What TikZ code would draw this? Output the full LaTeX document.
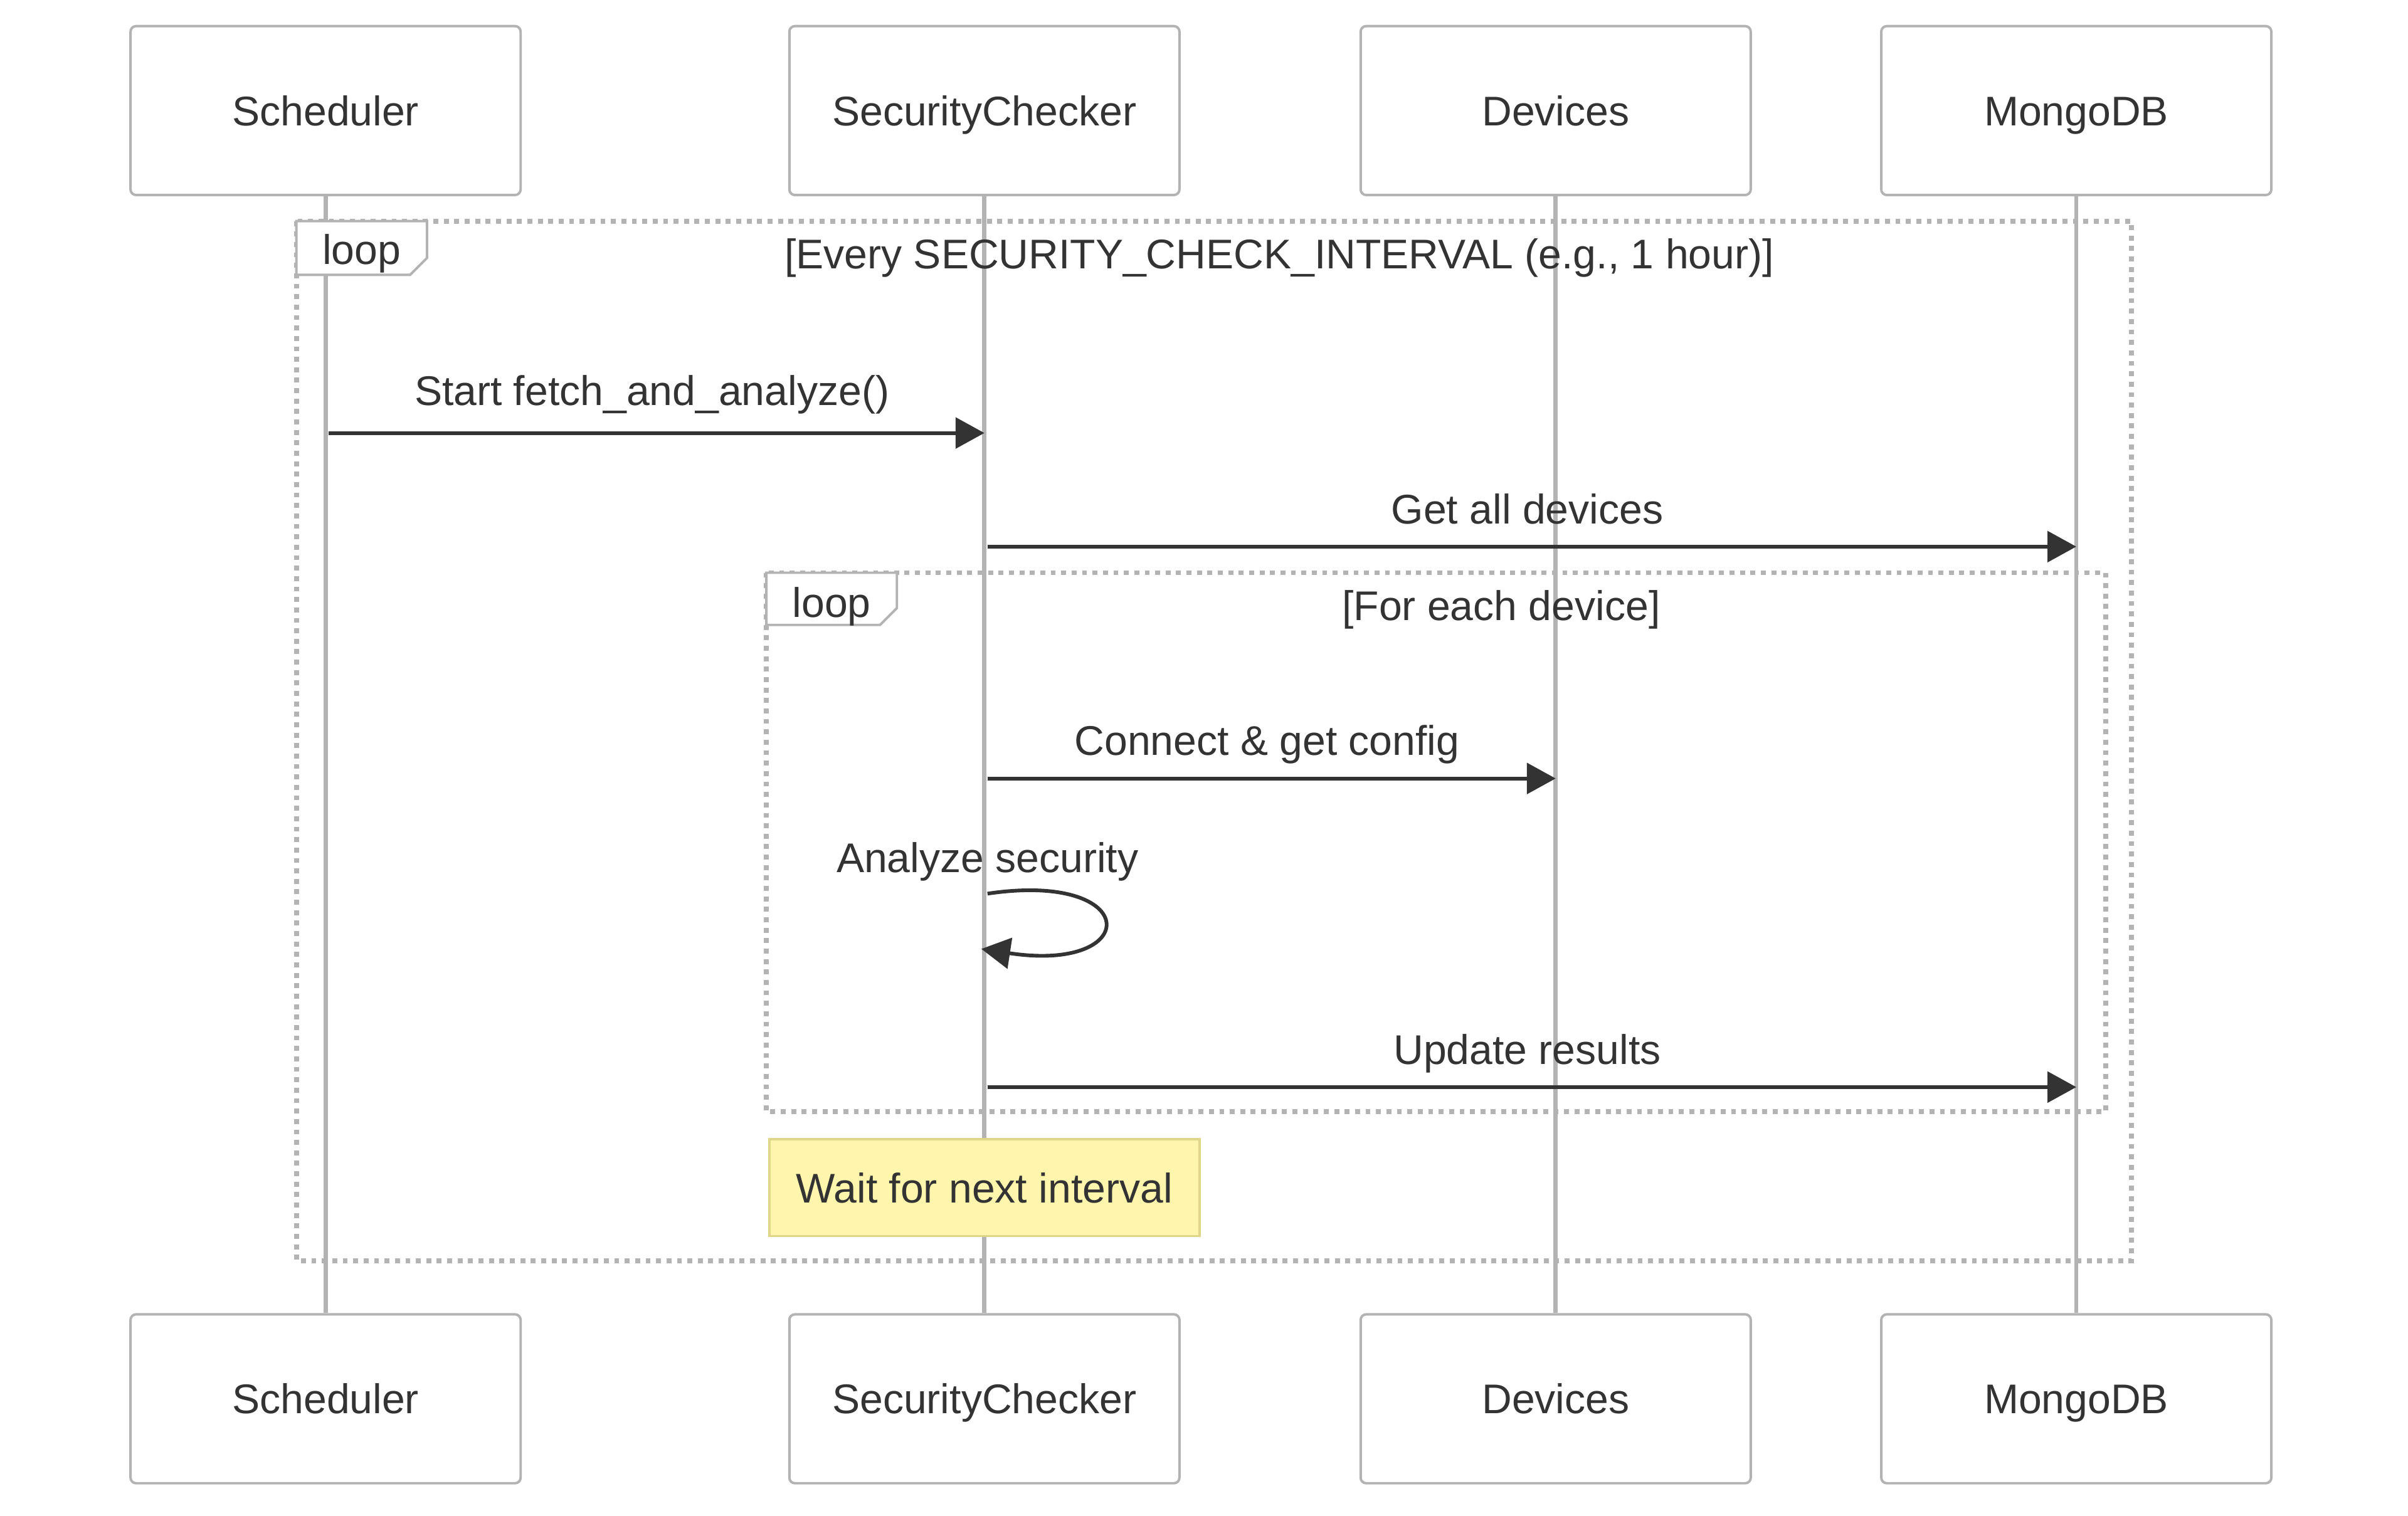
\documentclass[tikz,border=0pt]{standalone}
\usepackage{fontspec}
\setmainfont{Liberation Sans}
\usepackage{xcolor}
\usepackage{tikz}
\usetikzlibrary{
  arrows.meta,
  positioning
}
\definecolor{seqtext}{HTML}{333333}
\definecolor{seqline}{HTML}{B3B3B3}
\definecolor{notefill}{HTML}{FFF5AD}
\definecolor{noteedge}{HTML}{E0D68A}

\begin{document}
\begin{tikzpicture}[
  x=0.5pt, y=-0.5pt,
  font=\fontsize{13.5}{16}\selectfont, text=seqtext,
  actor/.style={
    draw=seqline, fill=white, line width=0.8pt, rounded corners=1.8pt,
    minimum width=127pt, minimum height=55pt, inner sep=0pt,
    text height=9.7pt, text depth=0pt
  },
  lifeline/.style={draw=seqline, line width=1.4pt},
  msg/.style={
    draw=seqtext, line width=1.2pt,
    -{Triangle[length=9.4pt, width=10pt]}
  },
  msglabel/.style={inner sep=0pt, anchor=base},
  loopframe/.style={
    draw=seqline, line width=1.6pt, dash pattern=on 1.6pt off 1.8pt
  },
  looptag/.style={draw=seqline, fill=white, line width=0.8pt},
  notebox/.style={
    draw=noteedge, fill=notefill, line width=0.8pt,
    minimum width=140pt, minimum height=31.5pt, inner sep=0pt,
    text height=9.7pt, text depth=0pt
  }
]
\path[use as bounding box, fill=white] (0,0) rectangle (1568,987);

\node[actor] (schedTop) at (212,72)  {Scheduler};
\node[actor] (checkTop) at (641,72)  {SecurityChecker};
\node[actor] (devTop)   at (1013,72) {Devices};
\node[actor] (mongoTop) at (1352,72) {MongoDB};

\node[actor] (schedBot) at (212,911)  {Scheduler};
\node[actor] (checkBot) at (641,911)  {SecurityChecker};
\node[actor] (devBot)   at (1013,911) {Devices};
\node[actor] (mongoBot) at (1352,911) {MongoDB};

\draw[lifeline] (schedTop.south) -- (schedBot.north);
\draw[lifeline] (checkTop.south) -- (checkBot.north);
\draw[lifeline] (devTop.south)   -- (devBot.north);
\draw[lifeline] (mongoTop.south) -- (mongoBot.north);

% outer loop
\draw[loopframe] (193,144) rectangle (1388,821);
\draw[looptag] (193,144) -- (278,144) -- (278,168) -- (267,179) -- (193,179) -- cycle;
\node[msglabel] (outerTag)  at (235.5,172) {loop};
\node[msglabel] (outerCond) at (833,175) {[Every SECURITY\_CHECK\_INTERVAL (e.g., 1 hour)]};

\coordinate (rowStart) at (0,282);
\draw[msg] ([xshift=1pt]schedTop |- rowStart) -- (checkTop |- rowStart);
\node[msglabel] (startLbl) at (424.5,264) {Start fetch\_and\_analyze()};

\coordinate (rowGet) at (0,356);
\draw[msg] ([xshift=1pt]checkTop |- rowGet) -- (mongoTop |- rowGet);
\node[msglabel] (getLbl) at (994.5,341) {Get all devices};

% inner loop
\draw[loopframe] (499,373) rectangle (1371,724);
\draw[looptag] (499,373) -- (584,373) -- (584,396) -- (573,407) -- (499,407) -- cycle;
\node[msglabel] (innerTag)  at (541.5,402) {loop};
\node[msglabel] (innerCond) at (977.5,404) {[For each device]};

\coordinate (rowConn) at (0,507);
\draw[msg] ([xshift=1pt]checkTop |- rowConn) -- (devTop |- rowConn);
\node[msglabel] (connLbl) at (825,492) {Connect \& get config};

\coordinate (selfOut) at (643,582);
\coordinate (selfIn)  at (639,618);
\draw[msg] (selfOut) .. controls (744,567) and (744,634) .. (selfIn);
\node[msglabel] (selfLbl) at (643,568) {Analyze security};

\coordinate (rowUpd) at (0,708);
\draw[msg] ([xshift=1pt]checkTop |- rowUpd) -- (mongoTop |- rowUpd);
\node[msglabel] (updLbl) at (994.5,693) {Update results};

\node[notebox] (waitNote) at (641,773.5) {Wait for next interval};
\end{tikzpicture}
\end{document}
